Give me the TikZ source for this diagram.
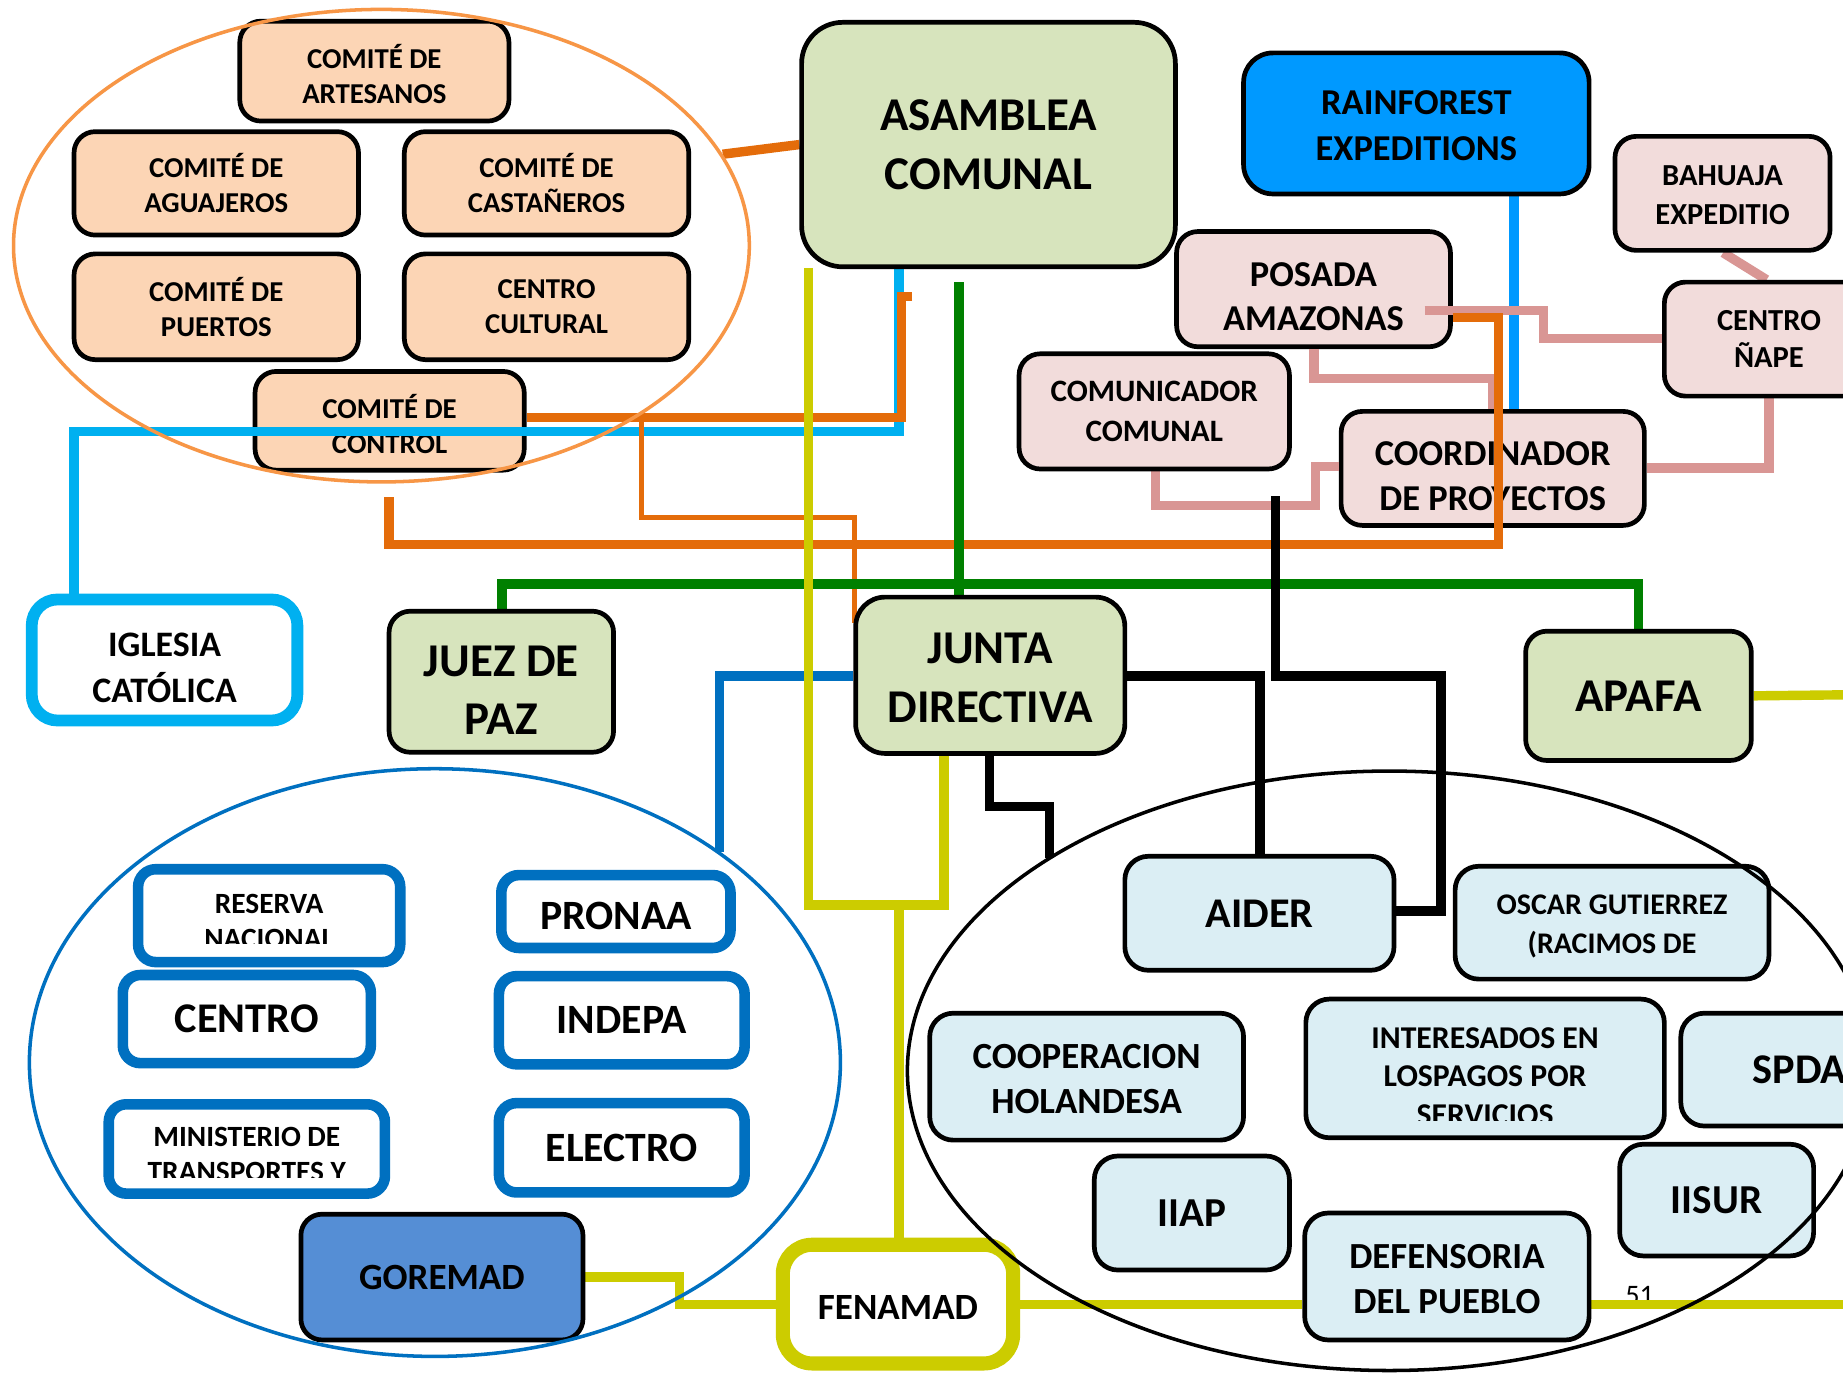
\documentclass[tikz,border=0pt]{standalone}
\usepackage{fontspec}
\setmainfont{Carlito}
\usetikzlibrary{shapes.geometric}
\definecolor{peach}{HTML}{FCD5B5}
\definecolor{lgreen}{HTML}{D7E4BD}
\definecolor{rfblue}{HTML}{0099FF}
\definecolor{lpink}{HTML}{F2DCDB}
\definecolor{pinkline}{HTML}{D99694}
\definecolor{lblue}{HTML}{DBEEF4}
\definecolor{goremadc}{HTML}{558ED5}
\definecolor{cyanl}{HTML}{00B0F0}
\definecolor{dblue}{HTML}{0070C0}
\definecolor{yel}{HTML}{CCCC00}
\definecolor{gre}{HTML}{008000}
\definecolor{ora}{HTML}{E46C0A}
\definecolor{oraell}{HTML}{F79646}
\pgfdeclarelayer{back}
\pgfdeclarelayer{bg}
\pgfdeclarelayer{fg}
\pgfsetlayers{back,bg,main,fg}
\tikzset{
 bx/.style={draw=black, line width=4pt, rounded corners=18pt, align=center, inner sep=0pt},
 wh/.style n args={2}{minimum width=#1pt, minimum height=#2pt},
 fs/.style n args={2}{font=\bfseries\fontsize{#1}{#2}\selectfont},
 peachbox/.style={bx, fill=peach, fs={24.5}{30}},
 greenbox/.style={bx, fill=lgreen, fs={40}{50}},
 pinkbox/.style={bx, fill=lpink},
 lbbox/.style={bx, fill=lblue, rounded corners=20pt},
 bluebox/.style={bx, draw=dblue, line width=9pt, fill=white, rounded corners=15pt},
 txt/.style={align=center, inner sep=0pt},
 conn/.style={line width=8pt},
 oral/.style={conn, draw=ora},
 orathin/.style={line width=4pt, draw=ora},
 cyl/.style={conn, draw=cyanl},
 grel/.style={conn, draw=gre},
 blkl/.style={conn, draw=black},
 pinkl/.style={conn, draw=pinkline},
 rfl/.style={conn, draw=rfblue},
 dbll/.style={conn, draw=dblue},
 yell/.style={conn, draw=yel},
 ell/.style={ellipse, line width=3pt, inner sep=0pt}
}
\begin{document}
\begin{tikzpicture}[x=1pt,y=-1pt]
\useasboundingbox (0,0) rectangle (1568,1171);
\begin{pgfonlayer}{back}
\fill[white] (0,0) rectangle (1568,1171);
\end{pgfonlayer}

% ---------- main nodes ----------
\node[greenbox, wh={318}{208}, rounded corners=35pt] (asam) at (841,123) {ASAMBLEA\\COMUNAL};
\node[bx, fill=rfblue, wh={294}{120}, rounded corners=25pt, fs={31}{39}] (rain) at (1205,105) {};
\node[txt, fs={31}{39}] (raint) at (1205,107) {RAINFOREST\\EXPEDITIONS};
\node[pinkbox, wh={183}{97}, fs={26}{33}] (bah) at (1465.5,164.5) {};
\node[txt, fs={26}{33}] (baht) at (1465.5,166) {BAHUAJA\\EXPEDITIO};
\node[pinkbox, wh={178}{97}, fs={26}{32}] (nape) at (1505,288.5) {CENTRO\\ÑAPE};
\node[pinkbox, wh={230}{98}, fs={26.5}{34}] (comu) at (982,350) {COMUNICADOR\\COMUNAL};
\node[bx, draw=cyanl, line width=10pt, fill=white, wh={226}{103}, rounded corners=22pt] (igl) at (140,561.5) {};
\node[txt, fs={30.5}{39}] (iglt) at (140,568) {IGLESIA\\CATÓLICA};
\node[greenbox, wh={191}{120}] (juez) at (426.5,580) {};
\node[txt, fs={40}{49}] (juezt) at (426.5,587.5) {JUEZ DE\\PAZ};
\node[greenbox, wh={229}{133}, rounded corners=25pt] (junta) at (842.5,574.5) {};
\node[txt, fs={40}{50}] (juntat) at (842.5,576.5) {JUNTA\\DIRECTIVA};
\node[greenbox, wh={192}{110}] (apafa) at (1394,592) {APAFA};

\node[peachbox, wh={229}{85}] (art) at (318.5,60.5) {};
\node[txt, fs={24.5}{30}] (artt) at (318.5,63) {COMITÉ DE\\ARTESANOS};
\node[peachbox, wh={242}{88}] (agu) at (184,156) {COMITÉ DE\\AGUAJEROS};
\node[peachbox, wh={242}{88}] (cas) at (465,156) {COMITÉ DE\\CASTAÑEROS};
\node[peachbox, wh={242}{90}] (pue) at (184,261) {COMITÉ DE\\PUERTOS};
\node[peachbox, wh={242}{90}] (cul) at (465,261) {CENTRO\\CULTURAL};

\node[bluebox, wh={223}{79}] (res) at (229,779) {};
\node[bluebox, wh={211}{75}, fs={36}{44}] (cen) at (210,867) {CENTRO};
\node[bluebox, wh={235}{76}] (min) at (210,977.5) {};
\node[bluebox, wh={195}{62}] (pron) at (524,775.5) {};
\node[txt, fs={35.5}{44}] (pront) at (524,779.5) {PRONAA};
\node[bluebox, wh={209}{75}, fs={35.5}{44}] (ind) at (529,868) {INDEPA};
\node[bluebox, wh={209}{76}, fs={35.5}{44}] (ele) at (529,976.5) {ELECTRO};
\node[bx, fill=goremadc, wh={240}{107}, fs={31.5}{38}] (gor) at (376,1086.5) {GOREMAD};
\node[bx, draw=yel, line width=12pt, fill=white, wh={196}{101}, rounded corners=25pt] (fen) at (764,1109.5) {};
\node[txt, fs={31.5}{38}] (fent) at (764,1112) {FENAMAD};

\node[lbbox, wh={229}{97}, fs={36}{44}] (aider) at (1071.5,777) {AIDER};
\node[lbbox, wh={267}{96}] (oscar) at (1371.5,785) {};
\node[txt, fs={25.5}{33}] (oscart) at (1371.5,788) {OSCAR GUTIERREZ\\(RACIMOS DE};
\node[lbbox, wh={267}{108}] (coop) at (924.5,916) {};
\node[txt, fs={31.4}{39}] (coopt) at (924.5,918) {COOPERACION\\HOLANDESA};
\node[lbbox, wh={305}{118}] (inter) at (1263.5,909) {};
\node[lbbox, wh={202}{96}, fs={36}{44}] (spda) at (1531,910) {SPDA};
\node[lbbox, wh={166}{97}, fs={35}{44}] (iiap) at (1014,1032) {IIAP};
\node[lbbox, wh={165}{95}, fs={35}{44}] (iisur) at (1460.5,1021) {IISUR};
\node[lbbox, wh={242}{108}] (def) at (1231,1086) {};
\node[txt, fs={31.3}{38}] (deft) at (1231,1088) {DEFENSORIA\\DEL PUEBLO};

\begin{scope}
\clip (113,735) rectangle (345,803);
\node[txt, fs={25}{30}] (rest) at (229,784) {RESERVA\\NACIONAL};
\end{scope}
\begin{scope}
\clip (88,935) rectangle (332,1002);
\node[txt, fs={25}{30}] (mint) at (210,982) {MINISTERIO DE\\TRANSPORTES Y};
\end{scope}
\begin{scope}
\clip (1111,850) rectangle (1416,953);
\node[txt, fs={27}{33}] (intt) at (1263.5,916) {INTERESADOS EN\\LOSPAGOS POR\\SERVICIOS};
\end{scope}

% ---------- ellipses (on top) ----------
\begin{pgfonlayer}{fg}
\node[ell, draw=oraell, wh={626}{402}] (oell) at (324.5,209) {};
\node[ell, draw=dblue, wh={690}{500}] (bell) at (370,904) {};
\node[ell, draw=black, wh={820}{510}] (kell) at (1182,911) {};
\end{pgfonlayer}

% ---------- connectors (behind) ----------
\begin{pgfonlayer}{bg}
\node[peachbox, wh={229}{84}] (con) at (331.5,358) {};
\node[txt, fs={24.5}{30}] (cont) at (331.5,360.5) {COMITÉ DE\\CONTROL};
\node[pinkbox, wh={233}{98}] (pos) at (1117.5,246) {};
\node[txt, fs={31}{38}] (post) at (1117.5,252.5) {POSADA\\AMAZONAS};
\node[pinkbox, wh={258}{97}] (coord) at (1270,398.5) {};
\node[txt, fs={31}{38}] (coordt) at (1270,405) {COORDINADOR\\DE PROYECTOS};

\coordinate (bellpt) at (612,725);
\coordinate (kellpt) at (893,730);

\draw[cyl] (asam.south -| 765,0) |- (63,367) -- (igl.north -| 63,0);
\draw[rfl] (rain.south -| 1288,0) -- (coord.north -| 1288,0);

\draw[pinkl] (bah.south -| 1466,0) -- (nape.north -| 1503,0);
\draw[pinkl] (1212,264) -| (1313,288) -- (nape.west |- 0,288);
\draw[pinkl] (pos.south -| 1118,0) |- (1270,322) -- (coord.north -| 1270,0);
\draw[pinkl] (nape.south -| 1505,0) |- (coord.east |- 0,398);
\draw[pinkl] (comu.south -| 983,0) |- (1119,430) |- (coord.west |- 0,397);

\draw[oral] (oell.15) -- (asam.west);
\draw[oral] (776,252) -| (767,355) -- (con.east |- 0,355);
\draw[oral] (pos.east |- 0,270) -| (1275,463) -| (331,423);
\draw[orathin] (546,355) |- (727,440) -- (727,530);

\draw[grel] (816,240) -- (junta.north -| 816,0);
\draw[grel] (juez.north -| 427,0) |- (1394,497) -- (apafa.north -| 1394,0);

\draw[blkl] (junta.east |- 0,575) -| (aider.north -| 1072,0);
\draw[blkl] (1085,422) |- (1226,575) |- (aider.east |- 0,775);
\draw[blkl] (junta.south -| 842,0) |- (893,686) -- (kellpt);

\draw[dbll] (junta.west |- 0,575) -| (bellpt);

\node[font=\fontsize{24}{24}\selectfont, inner sep=0pt] (n51) at (1395,1102) {51};

\draw[yell] (688,228) -- (688,770) -| (junta.south -| 803,0);
\draw[yell] (765,770) -- (fen.north -| 765,0);
\draw[yell] (gor.east) -| (578,1110) -- (fen.west |- 0,1110);
\draw[yell] (fen.east |- 0,1110) -- (def.west |- 0,1110);
\draw[yell] (def.east |- 0,1110) -- (1580,1110);
\draw[yell] (apafa.east) -- (1580,591);
\end{pgfonlayer}
\end{tikzpicture}
\end{document}
